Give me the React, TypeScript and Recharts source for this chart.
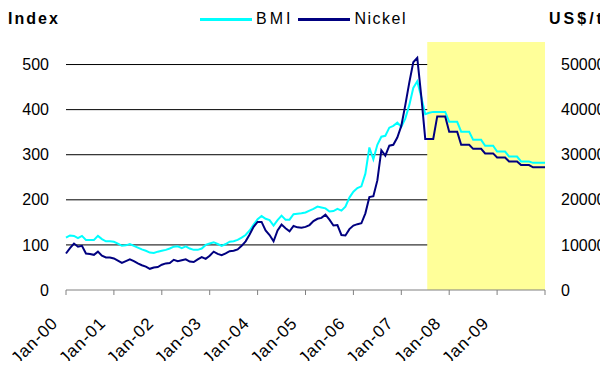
import React from 'react';
import { LineChart, Line, XAxis, YAxis, CartesianGrid, ReferenceArea } from 'recharts';

const FONT = '"Liberation Sans", Arial, sans-serif';

// Jan-00 .. Jan-10, one point per month
const monthNames = ['Jan', 'Feb', 'Mar', 'Apr', 'May', 'Jun', 'Jul', 'Aug', 'Sep', 'Oct', 'Nov', 'Dec'];
const years = ['00', '01', '02', '03', '04', '05', '06', '07', '08', '09', '10'];
const months = years.flatMap((y) => monthNames.map((m) => `${m}-${y}`)).slice(0, 121);

const tickLabels = ['Jan-00', 'Jan-01', 'Jan-02', 'Jan-03', 'Jan-04', 'Jan-05', 'Jan-06', 'Jan-07', 'Jan-08', 'Jan-09', ''];
const tickIndex = [0, 12, 24, 36, 48, 60, 72, 84, 96, 108, 120];

// base metals index
const bmi = [
  116, 121, 120, 115, 120, 111, 111, 111, 120, 113, 108, 108,
  107, 103, 98, 99, 102, 98, 94, 90, 87, 83, 82, 85,
  87, 89, 92, 96, 97, 93, 97, 92, 89, 89, 92, 100,
  103, 106, 102, 98, 102, 107, 108, 111, 116, 122, 132, 145,
  157, 164, 158, 155, 143, 155, 165, 156, 156, 168, 169, 170,
  172, 176, 180, 185, 183, 181, 174, 175, 180, 176, 185, 205,
  218, 226, 230, 258, 316, 290, 322, 340, 342, 360, 364, 371,
  362, 380, 410, 448, 463, 428, 390, 393, 395, 395, 395, 395,
  373, 373, 373, 351, 351, 351, 333, 333, 333, 320, 320, 320,
  307, 307, 307, 296, 296, 296, 285, 285, 285, 282, 282, 282,
  282,
];

// nickel, US$/t
const nickel = [
  8100, 9300, 10300, 9600, 9800, 8100, 8000, 7800, 8500, 7600, 7200, 7200,
  7000, 6500, 6000, 6400, 6800, 6400, 5900, 5500, 5200, 4700, 5000, 5100,
  5600, 5900, 6000, 6700, 6400, 6600, 6800, 6300, 6200, 6800, 7300, 6900,
  7600, 8500, 8000, 7700, 8100, 8600, 8700, 9000, 9800, 10800, 12300, 14000,
  15100, 15100, 13200, 12200, 10800, 13200, 14500, 13700, 13000, 14200, 13900, 13800,
  14000, 14400, 15300, 15800, 16000, 16700, 15600, 14300, 14400, 12200, 12100, 13500,
  14300, 14600, 14800, 17000, 20600, 20800, 24300, 31000, 29800, 32000, 32200, 33800,
  36400, 41000, 46000, 50500, 51500, 43000, 33500, 33500, 33500, 38500, 38500, 38500,
  35100, 35100, 35100, 32200, 32200, 32200, 31300, 31300, 31300, 30300, 30300, 30300,
  29400, 29400, 29400, 28500, 28500, 28500, 27700, 27700, 27700, 27200, 27200, 27200,
  27200,
];

// forecast period starts between Jul-07 and Aug-07
const forecastStart = 90.5;
const forecastEnd = 120;

const leftTicks = [0, 100, 200, 300, 400, 500];
const rightTicks = [0, 10000, 20000, 30000, 40000, 50000];

const series = [
  { key: 'bmi', name: 'BMI', color: '#00FFFF', spacing: 3 },
  { key: 'nickel', name: 'Nickel', color: '#000080', spacing: 1.5 },
];

const data = months.map((month, idx) => ({ idx, month, bmi: bmi[idx], nickel: nickel[idx] }));

// slanted month labels, text ends just left of the tick
const MonthTick = ({ x, y, payload }: { x?: number; y?: number; payload?: { value: number } }) => {
  const label = tickLabels[tickIndex.indexOf(payload?.value ?? -1)] ?? '';
  if (!label) return null;
  const bx = (x ?? 0) - 7;
  const by = (y ?? 0) + 27;
  return (
    <text
      x={bx}
      y={by}
      transform={`rotate(-45, ${bx}, ${by})`}
      textAnchor="end"
      fontFamily={FONT}
      fontSize={17}
      letterSpacing={1}
      fill="#000"
    >
      {label}
    </text>
  );
};

export default function App() {
  return (
    <div style={{ position: 'relative', width: 608, height: 369, margin: -8, background: '#fff', overflow: 'hidden' }}>
      <div style={{ position: 'absolute', left: 8, top: 10, fontFamily: FONT, fontSize: 16, fontWeight: 700, letterSpacing: 2 }}>
        Index
      </div>
      <div style={{ position: 'absolute', left: 549, top: 10, fontFamily: FONT, fontSize: 16, fontWeight: 700, letterSpacing: 3, whiteSpace: 'nowrap' }}>
        US$/t
      </div>
      <div style={{ position: 'absolute', left: 200, top: 10, display: 'flex', alignItems: 'center', fontFamily: FONT, fontSize: 16, color: '#000' }}>
        {series.map((s) => (
          <div key={s.key} style={{ display: 'flex', alignItems: 'center', marginRight: 5 }}>
            <span style={{ display: 'inline-block', width: 52, height: 3, backgroundColor: s.color, marginRight: 4 }} />
            <span style={{ letterSpacing: s.spacing }}>{s.name}</span>
          </div>
        ))}
      </div>
      <LineChart width={608} height={369} data={data} margin={{ top: 42, right: 0, bottom: 0, left: 0 }}>
        <CartesianGrid vertical={false} stroke="#000" horizontalValues={[100, 200, 300, 400, 500]} yAxisId="left" />
        <ReferenceArea
          yAxisId="left"
          x1={forecastStart}
          x2={forecastEnd}
          y1={0}
          y2={550}
          fill="#FFFF99"
          fillOpacity={1}
          stroke="none"
        />
        <XAxis
          dataKey="idx"
          type="number"
          domain={[0, 120]}
          ticks={tickIndex}
          height={79}
          stroke="#808080"
          tickSize={5}
          tick={<MonthTick />}
        />
        <YAxis
          yAxisId="left"
          orientation="left"
          domain={[0, 550]}
          ticks={leftTicks}
          width={66}
          axisLine={false}
          tickLine={false}
          tickSize={0}
          tickMargin={17}
          tick={{ fill: '#000', fontSize: 16, fontFamily: FONT }}
        />
        <YAxis
          yAxisId="right"
          orientation="right"
          domain={[0, 55000]}
          ticks={rightTicks}
          width={63}
          axisLine={false}
          tickLine={false}
          tickSize={0}
          tickMargin={16}
          tick={{ fill: '#000', fontSize: 16, fontFamily: FONT, textAnchor: 'start' }}
        />
        <Line
          yAxisId="left"
          dataKey="bmi"
          name="BMI"
          stroke="#00FFFF"
          strokeWidth={2}
          dot={false}
          isAnimationActive={false}
        />
        <Line
          yAxisId="right"
          dataKey="nickel"
          name="Nickel"
          stroke="#000080"
          strokeWidth={2}
          dot={false}
          isAnimationActive={false}
        />
      </LineChart>
    </div>
  );
}
